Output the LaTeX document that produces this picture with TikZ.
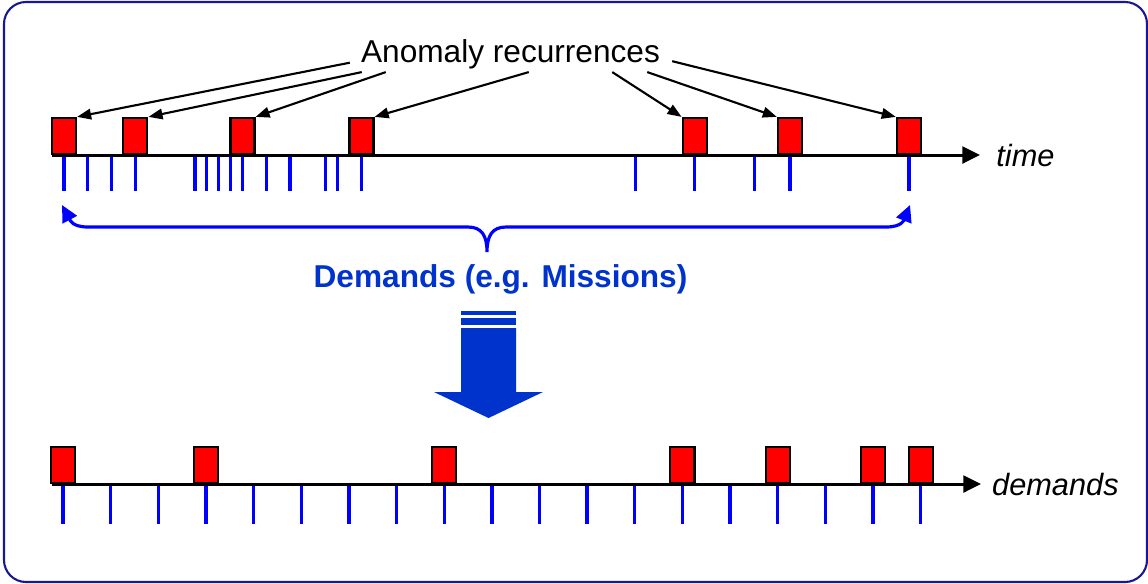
\documentclass[tikz,border=0pt]{standalone}
\usepackage{fontspec}
\setmainfont{Liberation Sans}
\usepackage{tikz}
\usetikzlibrary{arrows.meta, positioning, calc}
\definecolor{cFrame}{RGB}{24,24,150}
\definecolor{cTick}{RGB}{0,0,255}
\definecolor{cDeep}{RGB}{0,51,204}
\definecolor{cEvent}{RGB}{255,0,0}
\tikzset{
	event/.style    ={rectangle, draw=black, line width=1.2pt, fill=cEvent, minimum width=13.7pt, minimum height=20.5pt, inner sep=0pt, anchor=south},
	axis/.style     ={-{Triangle[length=10pt, width=9.5pt]}, line width=1.7pt},
	demtick/.style  ={cTick, line width=1.9pt},
	pointer/.style  ={-{Triangle[length=8pt, width=6pt]}, line width=1.2pt},
	bracepath/.style={cTick, line width=1.8pt, {Triangle[length=9.5pt, width=9pt]}-{Triangle[length=9.5pt, width=9pt]}},
	axislabel/.style={font=\fontsize{17.5}{20}\selectfont\itshape, inner sep=0pt},
}

\begin{document}
\begin{tikzpicture}[x=0.02cm, y=-0.02cm]
	\useasboundingbox (0,0) rectangle (1148,583);
	\draw[cFrame, line width=1.2pt, rounded corners=12.5pt] (4,2) rectangle (1147,582);
	% time scale
	\coordinate (t0) at (52,155);
	\coordinate (t1) at (980,155);
	\draw[axis] (t0) -- (t1) node[axislabel, right=8.5pt] (tlab) {time};
	\foreach \k in {0,2,4,6,11,12,13,14,15,17,19,22,23,25,48,53,58,61,71}
		\draw[demtick] ({64+11.9*\k},157) -- ++(0,34);
	\foreach \k [count=\n] in {0,6,15,25,53,61,71}
		\node[event] (e\n) at ({64+11.9*\k},155) {};
	% label and its pointers
	\node[font=\fontsize{18}{21}\selectfont, inner sep=0pt] (anom) at (510.5,54.5) {Anomaly recurrences};
	\coordinate (s1) at ($(anom.base west)+(-11,0)$);
	\coordinate (s2) at ($(anom.south west)+(1,2.5)$);
	\coordinate (s3) at ($(anom.south west)+(25,2.5)$);
	\coordinate (s4) at ($(anom.south west)+(168,2.5)$);
	\coordinate (s5) at ($(anom.south east)+(-48,2.5)$);
	\coordinate (s6) at ($(anom.south east)+(-13,2.5)$);
	\coordinate (s7) at ($(anom.base east)+(12,-1.5)$);
	\foreach \n/\a in {1/north east, 2/north east, 3/north east, 4/north east, 5/north west, 6/north west, 7/north west}
		\draw[pointer] (s\n) -- (e\n.\a);
	% brace over the demands
	\coordinate (bl) at (62,205);
	\coordinate (bm) at (487,252);
	\coordinate (br) at (910,205);
	\draw[bracepath] (bl) .. controls (70,220) and (72,227) .. (88,227) -- (468,227)
		.. controls (482,227) and (487,236) .. (bm) .. controls (487,236) and (492,227) .. (506,227)
		-- (886,227) .. controls (902,227) and (904,220) .. (br);
	\node[font=\fontsize{18}{21}\selectfont\bfseries, text=cDeep, inner sep=0pt] (dlab) at (500.5,279) {Demands (e.g. Missions)};
	% block arrow
	\fill[cDeep] (461,311) rectangle (516,315);
	\fill[cDeep] (461,318) rectangle (516,325);
	\fill[cDeep] (461,328) -- (516,328) -- (516,392) -- (543,392) -- (488.5,418) -- (434,392) -- (461,392) -- cycle;
	% demand scale
	\coordinate (d0) at (52,484);
	\coordinate (d1) at (981,484);
	\draw[axis] (d0) -- (d1) node[axislabel, right=5.5pt] (dnlab) {demands};
	\foreach \i in {0,...,18}
		\draw[demtick] ({63+47.65*\i},486) -- ++(0,38);
	\foreach \i [count=\n] in {0,3,8,13,15,17,18}
		\node[event] (f\n) at ({63+47.65*\i},484) {};
\end{tikzpicture}
\end{document}
